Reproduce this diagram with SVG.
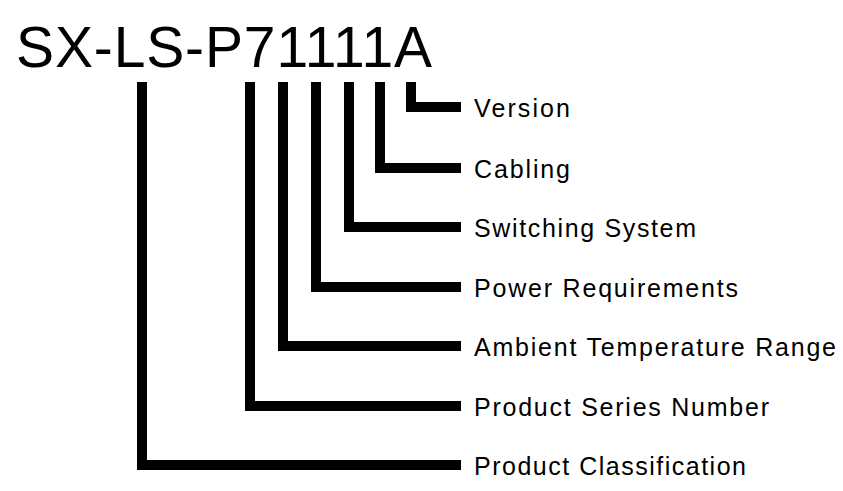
<svg xmlns="http://www.w3.org/2000/svg" width="843" height="491" viewBox="0 0 843 491">
<style>
.t{font-family:"Liberation Sans",Arial,sans-serif;fill:#000}
.l{font-size:25px}
.c path{fill:none;stroke:#000;stroke-width:10}
</style>
<rect width="843" height="491" fill="#fff"/>
<g id="code"><text class="t" x="16" y="67" font-size="57" textLength="416">SX-LS-P71111A</text></g>
<g class="c" id="connectors">
<path d="M411 82V107H461"/>
<path d="M380 82V168H461"/>
<path d="M349 82V227H461"/>
<path d="M316 82V287H461"/>
<path d="M283 82V346H461"/>
<path d="M250 82V406H461"/>
<path d="M142 82V465H461"/>
</g>
<g id="n1"><text class="t l" x="474" y="117" textLength="96">Version</text></g>
<g id="n2"><text class="t l" x="474" y="178" textLength="96">Cabling</text></g>
<g id="n3"><text class="t l" x="474" y="237" textLength="222">Switching System</text></g>
<g id="n4"><text class="t l" x="474" y="297" textLength="264">Power Requirements</text></g>
<g id="n5"><text class="t l" x="474" y="356" textLength="362">Ambient Temperature Range</text></g>
<g id="n6"><text class="t l" x="474" y="416" textLength="295">Product Series Number</text></g>
<g id="n7"><text class="t l" x="474" y="475" textLength="272">Product Classification</text></g>
</svg>
